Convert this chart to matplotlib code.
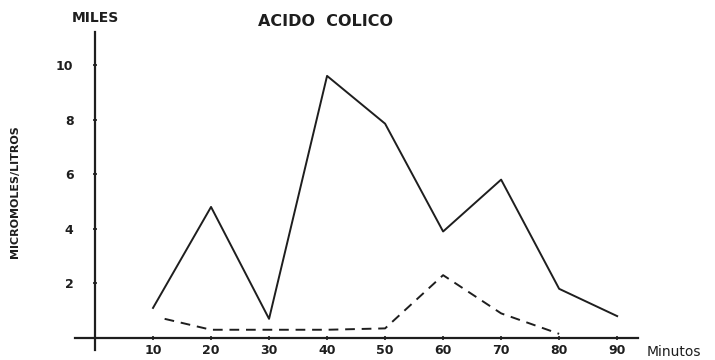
import matplotlib
matplotlib.use("Agg")
import matplotlib.pyplot as plt

# data (thousands of micromoles / litre vs minutes)
minutes = [10, 20, 30, 40, 50, 60, 70, 80, 90]
solid_vals = [1.1, 4.8, 0.7, 9.6, 7.85, 3.9, 5.8, 1.8, 0.8]

dash_minutes = [12, 20, 30, 40, 50, 60, 70, 80]
dash_vals = [0.7, 0.3, 0.3, 0.3, 0.35, 2.3, 0.9, 0.15]

x_ticks = [10, 20, 30, 40, 50, 60, 70, 80, 90]
y_ticks = [2, 4, 6, 8, 10]

ink = "#1e1e1e"
plt.rcParams['font.family'] = ['DejaVu Sans']

fig = plt.figure(figsize=(7.15, 3.6), dpi=100)
ax = fig.add_axes([0.0923, 0.0006, 0.852, 0.9933])
ax.set_xlim(-5, 100)
ax.set_ylim(-0.8, 12.3)

ax.plot(minutes, solid_vals, color=ink, lw=1.4)
ax.plot(dash_minutes, dash_vals, color=ink, lw=1.4, ls=(0, (5, 3.5)))

# axes drawn through the origin, like the hand drawn figure
for side in ['top', 'right']:
    ax.spines[side].set_visible(False)
ax.spines['left'].set_position(('data', 0))
ax.spines['bottom'].set_position(('data', 0))
ax.spines['left'].set_bounds(-0.45, 11.2)
ax.spines['bottom'].set_bounds(-3.4, 93.6)
for side in ['left', 'bottom']:
    ax.spines[side].set_linewidth(1.6)
    ax.spines[side].set_color(ink)

ax.set_xticks(x_ticks)
ax.set_yticks(y_ticks)
ax.set_xticklabels([str(t) for t in x_ticks])
ax.set_yticklabels([str(t) for t in y_ticks])
ax.tick_params(axis='x', direction='inout', length=3, width=1.2, colors=ink,
               labelsize=9, pad=3)
ax.tick_params(axis='y', direction='inout', length=3, width=1.2, colors=ink,
               labelsize=9, pad=14)
for lab in ax.get_xticklabels() + ax.get_yticklabels():
    lab.set_fontweight('bold')

fig.text(0.133, 0.95, "MILES", ha='center', va='center', fontsize=10,
         fontweight='bold', color=ink)
fig.text(0.455, 0.94, "ACIDO  COLICO", ha='center', va='center', fontsize=11.5,
         fontweight='bold', color=ink)
fig.text(0.021, 0.467, "MICROMOLES/LITROS", ha='center', va='center',
         rotation=90, fontsize=8, fontweight='bold', color=ink)
fig.text(0.905, 0.022, "Minutos", ha='left', va='center', fontsize=10,
         color=ink)

fig.savefig("out.png", dpi=100)
